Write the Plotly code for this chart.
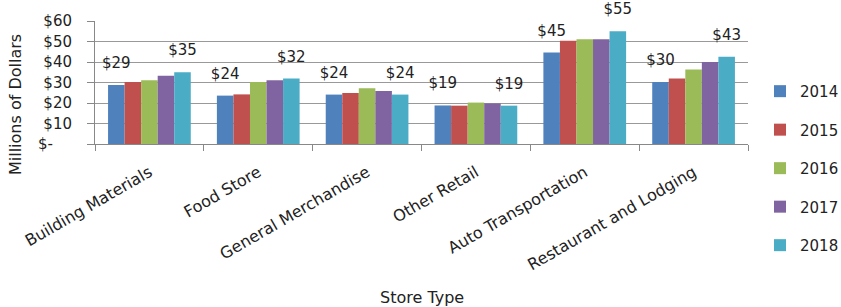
import plotly.graph_objects as go

categories = ["Building Materials", "Food Store", "General Merchandise",
              "Other Retail", "Auto Transportation", "Restaurant and Lodging"]
years = ["2014", "2015", "2016", "2017", "2018"]
values = {
    "2014": [28.8, 23.6, 24.1, 18.8, 44.6, 30.2],
    "2015": [30.2, 24.2, 24.9, 18.7, 50.4, 31.9],
    "2016": [31.1, 30.2, 27.2, 20.2, 51.1, 36.4],
    "2017": [33.3, 31.1, 25.9, 19.8, 51.1, 40.0],
    "2018": [35.0, 31.9, 24.1, 18.7, 55.0, 42.6],
}
labeled_years = ["2014", "2018"]
tick_vals = [0, 10, 20, 30, 40, 50, 60]
tick_text = ["$-\u2007\u2007", "$10", "$20", "$30", "$40", "$50", "$60"]
colors = ["#4F81BD", "#C0504D", "#9BBB59", "#8064A2", "#4BACC6"]
y_title = "Millions of Dollars"
x_title = "Store Type"

FONT = "DejaVu Sans"
PADSPAN = '<span style="font-size:58px"> </span>'
fig = go.Figure()
for yr, col in zip(years, colors):
    kw = {}
    if yr in labeled_years:
        kw = dict(texttemplate=PADSPAN + '$%{y:.0f}' + PADSPAN,
                  textposition="outside", cliponaxis=False, constraintext="none",
                  textfont=dict(family=FONT, size=15, color="#222"))
    fig.add_trace(go.Bar(name=yr, x=categories, y=values[yr], marker_color=col,
                         marker_line_width=0, legendgroup=yr, **kw))

fig.update_layout(
    width=841, height=307,
    margin=dict(l=95, r=93, t=21, b=163, autoexpand=False),
    paper_bgcolor="white", plot_bgcolor="white",
    barmode="group", bargap=0.24, bargroupgap=0,
    font=dict(family=FONT, size=14, color="#222"),
    showlegend=True,
    legend=dict(x=1.0184, xanchor="left", y=0.756, yanchor="top", yref="container",
                traceorder="grouped", tracegroupgap=16, maxheight=300,
                font=dict(family=FONT, size=15, color="#222"),
                bgcolor="rgba(0,0,0,0)"),
)
fig.update_xaxes(type="category", tickangle=-30, tickson="boundaries",
                 ticks="outside", ticklen=6, tickcolor="#888", automargin=False,
                 showline=True, linecolor="#888", linewidth=1,
                 ticklabelstandoff=12,
                 tickfont=dict(family=FONT, size=16, color="#222"))
fig.update_yaxes(range=[0, 60], tickvals=tick_vals, ticktext=tick_text,
                 ticks="outside", ticklen=7, tickcolor="#888", automargin=False,
                 showline=True, linecolor="#888", linewidth=1,
                 showgrid=True, gridcolor="#999", gridwidth=1,
                 zeroline=False, ticklabelstandoff=12,
                 tickfont=dict(family=FONT, size=15, color="#222"))
fig.add_annotation(text=y_title, xref="paper", yref="paper", x=-0.1225, y=0.317,
                   textangle=-90, showarrow=False, xanchor="center", yanchor="middle",
                   font=dict(family=FONT, size=16, color="#222"))
fig.add_annotation(text=x_title, xref="paper", yref="paper", x=0.5, y=-1.244,
                   showarrow=False, xanchor="center", yanchor="middle",
                   font=dict(family=FONT, size=16, color="#222"))
fig.write_html("out.html", config={"displayModeBar": False},
               post_script="document.body.style.margin='0';")
